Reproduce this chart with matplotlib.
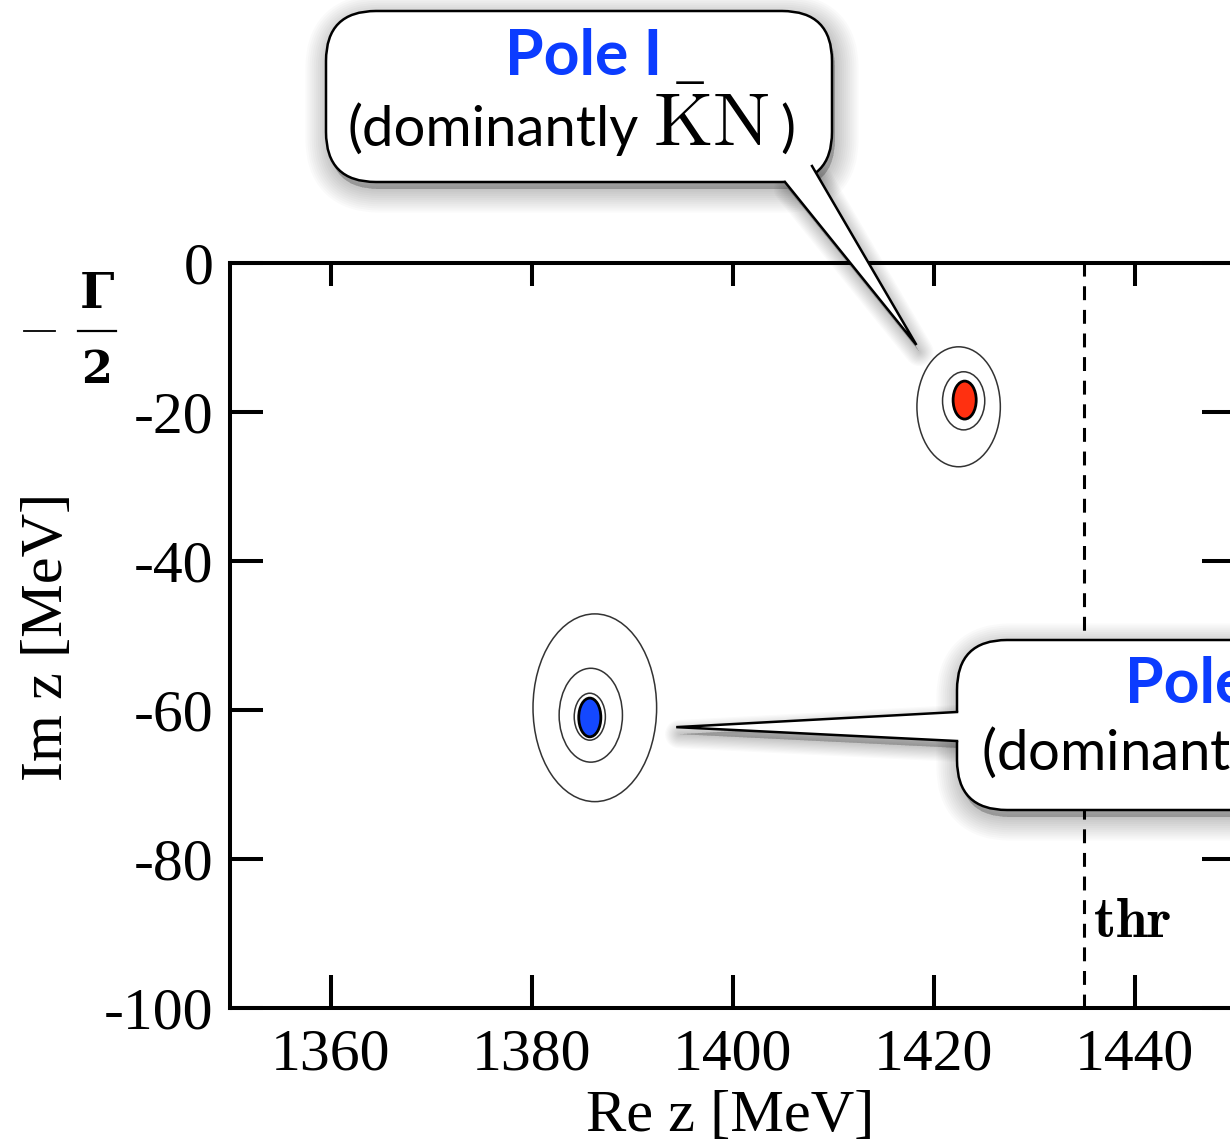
import matplotlib
matplotlib.use('Agg')
import matplotlib.pyplot as plt
from matplotlib.patches import Ellipse, FancyBboxPatch, Polygon
from matplotlib.transforms import Affine2D
from matplotlib.lines import Line2D

W, H = 1230, 1144
plt.rcParams['font.family'] = ['Liberation Serif', 'DejaVu Serif']
plt.rcParams['mathtext.fontset'] = 'cm'
plt.rcParams['axes.unicode_minus'] = False
plt.rcParams['lines.scale_dashes'] = False

# ---------------- data ----------------
x_ticks = [1360, 1380, 1400, 1420, 1440]
y_ticks = [0, -20, -40, -60, -80, -100]
x_range = [1350, 1450]
y_range = [-100, 0]
threshold = 1435.0

pole_labels = ['Pole I', 'Pole II']
pole_re = [1423.1, 1385.8]
pole_im = [-18.4, -61.0]
pole_w = [2.3, 2.2]
pole_h = [5.1, 5.2]
pole_colors = ['#ff3010', '#1448ff']

# contour rings around the poles
ring_re = [1423.0, 1422.5, 1385.8, 1385.9, 1386.3]
ring_im = [-18.5, -19.3, -60.9, -60.7, -59.7]
ring_w = [4.2, 8.3, 3.1, 6.3, 12.3]
ring_h = [7.8, 16.1, 6.3, 12.6, 25.2]

# callout tips (data coordinates)
tip_re = [1418.3, 1394.4]
tip_im = [-11.0, -62.3]

fig = plt.figure(figsize=(W / 100, H / 100), dpi=100)
ax = fig.add_axes([230 / W, 1 - 1008 / H, (1235 - 230) / W, 745 / H])
ax.set_xlim(*x_range)
ax.set_ylim(*y_range)

for s in ax.spines.values():
    s.set_linewidth(2.9)

ax.set_xticks(x_ticks)
ax.set_yticks(y_ticks)
ax.set_xticklabels([str(v) for v in x_ticks])
ax.set_yticklabels([str(v) for v in y_ticks])
ax.tick_params(direction='in', length=24, width=2.9, top=True, right=True,
               labelsize=43)
ax.tick_params(axis='y', pad=12)
ax.tick_params(axis='x', pad=15)
for t in ax.xaxis.get_major_ticks():
    t.tick2line.set_markersize(16.5)

ax.set_xlabel('Re z [MeV]', fontsize=43.5)
ax.xaxis.set_label_coords(0.4975, -0.110)
ax.set_ylabel('Im z [MeV]', fontsize=43.5)
ax.yaxis.set_label_coords(-0.154, 0.498)

# threshold
ax.axvline(threshold, color='black', lw=2.2, dashes=(10, 7), zorder=1)
ax.text(threshold + 0.9, -90.5, r'$\mathbf{thr}$', fontsize=41, ha='left',
        va='baseline')

# contours
for cx, cy, w, h in zip(ring_re, ring_im, ring_w, ring_h):
    ax.add_patch(Ellipse((cx, cy), w, h, facecolor='none', edgecolor='#333333',
                         lw=1.1, zorder=3))
for cx, cy, w, h, c in zip(pole_re, pole_im, pole_w, pole_h, pole_colors):
    ax.add_patch(Ellipse((cx, cy), w, h, facecolor=c, edgecolor='black',
                         lw=2.0, zorder=4))

# -Gamma/2 label (pixel coordinates, y downwards)
pxT = Affine2D().scale(1 / W, -1 / H).translate(0, 1) + fig.transFigure
fig.add_artist(Line2D([24, 55], [331, 331], color='black', lw=1.3,
                      transform=pxT))
fig.add_artist(Line2D([78, 116], [331, 331], color='black', lw=1.6,
                      transform=pxT))
fig.text(97, 308, 'Γ', family='DejaVu Serif', weight='bold', fontsize=35,
         ha='center', va='baseline', transform=pxT)
fig.text(97, 383, '2', family='DejaVu Serif', weight='bold', fontsize=32,
         ha='center', va='baseline', transform=pxT)


def to_px(x, y):
    dx, dy = ax.transData.transform((x, y))
    return dx, H - dy


def callout(x0, y0, x1, y1, r, a, b, a_in, b_in, tip):
    # soft shadow
    off = (3, 7)
    n = 12
    for k in range(n):
        lw = 1 + k * 3.0
        box = FancyBboxPatch((x0 + off[0], y0 + off[1]), x1 - x0, y1 - y0,
                             boxstyle=f'round,pad=0,rounding_size={r}',
                             transform=pxT, facecolor='#000000',
                             edgecolor='#000000', alpha=0.02, lw=lw,
                             joinstyle='round', zorder=5)
        fig.add_artist(box)
        tri = Polygon([(a[0] + off[0], a[1] + off[1]),
                       (tip[0] + off[0], tip[1] + off[1]),
                       (b[0] + off[0], b[1] + off[1])], closed=True,
                      transform=pxT, facecolor='#000000', edgecolor='#000000',
                      alpha=0.018, lw=lw * 0.6, joinstyle='round', zorder=5)
        fig.add_artist(tri)
    box = FancyBboxPatch((x0, y0), x1 - x0, y1 - y0,
                         boxstyle=f'round,pad=0,rounding_size={r}',
                         transform=pxT, facecolor='white', edgecolor='black',
                         lw=1.8, zorder=6)
    fig.add_artist(box)
    fig.add_artist(Polygon([a_in, a, tip, b, b_in], closed=True, transform=pxT,
                           facecolor='white', edgecolor='none', zorder=7))
    fig.add_artist(Line2D([a[0], tip[0], b[0]], [a[1], tip[1], b[1]],
                          color='black', lw=1.8, transform=pxT, zorder=8,
                          solid_joinstyle='miter'))


fig.canvas.draw()
tip1 = to_px(tip_re[0], tip_im[0])
tip2 = to_px(tip_re[1], tip_im[1])

callout(326, 11, 832, 182, 50, (785, 182), (812, 166), (785, 172), (806, 160), tip1)
callout(957, 640, 1480, 810, 50, (957, 712), (957, 741), (967, 712), (967, 741), tip2)

blue = '#0b3cff'
fig.text(505, 75, pole_labels[0], family='Lato', weight='bold', fontsize=45,
         color=blue, ha='left', va='baseline', transform=pxT, zorder=9)
fig.text(347, 146, '(dominantly', family='Lato', fontsize=40.5,
         ha='left', va='baseline', transform=pxT, zorder=9)
fig.text(653, 146, r'$\bar{\mathrm{K}}\mathrm{N}$', fontsize=55,
         ha='left', va='baseline', transform=pxT, zorder=9)
fig.text(780, 146, ')', family='Lato', fontsize=40.5,
         ha='left', va='baseline', transform=pxT, zorder=9)

fig.text(1125, 703, pole_labels[1], family='Lato', weight='bold', fontsize=45,
         color=blue, ha='left', va='baseline', transform=pxT, zorder=9)
fig.text(981, 770, r'(dominantly $\pi\Sigma$)', family='Lato', fontsize=40.5,
         ha='left', va='baseline', transform=pxT, zorder=9)

fig.savefig('out.png', dpi=100)
